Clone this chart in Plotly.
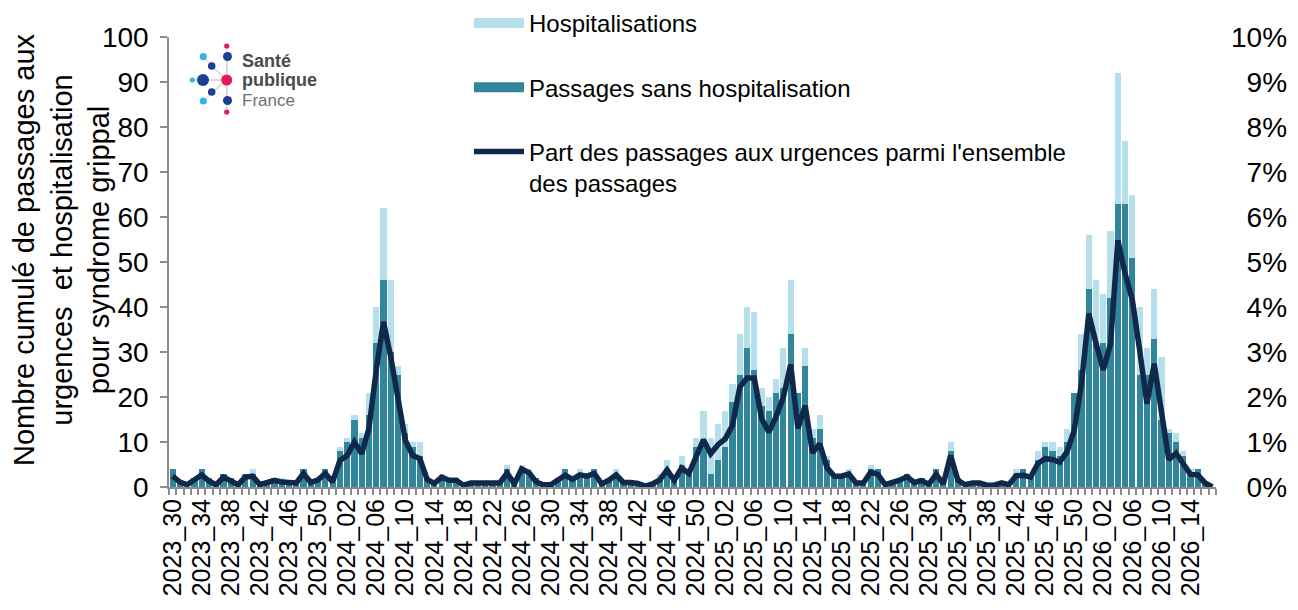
import plotly.graph_objects as go

# ---------------- data ----------------
week_spans = [(2023, 30, 52), (2024, 1, 52), (2025, 1, 52), (2026, 1, 17)]
weeks = [f"{y}_{w:02d}" for y, a, b in week_spans for w in range(a, b + 1)]
tick_labels = [w if i % 4 == 0 else "" for i, w in enumerate(weeks)]

passages_sans_hosp = [
    4, 1, 0, 2, 4, 2, 1, 3, 2, 1,
    3, 3, 1, 1, 2, 1, 1, 1, 4, 1,
    2, 4, 1, 8, 10, 15, 11, 16, 32, 46,
    30, 25, 12, 9, 7, 2, 1, 2, 2, 2,
    0, 1, 1, 1, 1, 1, 4, 1, 4, 3,
    2, 1, 1, 2, 4, 2, 3, 3, 4, 1,
    2, 3, 1, 1, 1, 0, 1, 2, 4, 2,
    5, 4, 9, 10, 3, 6, 9, 19, 25, 31,
    26, 18, 17, 21, 22, 34, 21, 27, 11, 13,
    6, 3, 3, 3, 1, 1, 4, 4, 0, 1,
    2, 3, 1, 2, 1, 4, 1, 8, 2, 0,
    1, 1, 0, 0, 1, 0, 3, 4, 3, 6,
    9, 8, 7, 10, 21, 26, 44, 32, 32, 42,
    63, 63, 51, 25, 25, 33, 15, 12, 10, 7,
    3, 4, 1, 0,
]
hospitalisations = [
    0, 0, 0, 0, 0, 0, 0, 0, 0, 0,
    0, 1, 0, 0, 0, 1, 0, 0, 0, 0,
    0, 0, 1, 1, 1, 1, 1, 5, 8, 16,
    16, 2, 2, 1, 3, 0, 0, 1, 0, 0,
    0, 0, 0, 0, 0, 0, 1, 0, 1, 1,
    0, 0, 0, 0, 0, 0, 1, 0, 0, 0,
    0, 1, 0, 0, 0, 0, 0, 1, 2, 0,
    2, 0, 2, 7, 8, 8, 8, 4, 9, 9,
    13, 4, 3, 3, 9, 12, 0, 4, 2, 3,
    1, 0, 0, 1, 0, 0, 1, 0, 0, 0,
    0, 0, 0, 0, 0, 0, 0, 2, 0, 0,
    0, 0, 0, 0, 0, 0, 1, 0, 0, 2,
    1, 2, 2, 3, 0, 8, 12, 14, 11, 15,
    29, 14, 14, 15, 6, 11, 14, 1, 2, 1,
    1, 0, 0, 0,
]
part_passages_pct = [
    0.24, 0.11, 0.05, 0.15, 0.27, 0.13, 0.05, 0.22, 0.15, 0.05,
    0.22, 0.24, 0.05, 0.10, 0.15, 0.11, 0.10, 0.09, 0.30, 0.10,
    0.16, 0.30, 0.11, 0.59, 0.70, 1.00, 0.74, 1.30, 2.60, 3.67,
    2.89, 1.93, 1.04, 0.70, 0.63, 0.17, 0.08, 0.22, 0.15, 0.15,
    0.04, 0.09, 0.09, 0.09, 0.09, 0.09, 0.31, 0.07, 0.40, 0.32,
    0.11, 0.05, 0.05, 0.15, 0.26, 0.17, 0.27, 0.24, 0.30, 0.07,
    0.15, 0.27, 0.10, 0.10, 0.08, 0.02, 0.07, 0.16, 0.38, 0.15,
    0.42, 0.30, 0.68, 1.05, 0.74, 0.94, 1.07, 1.37, 2.22, 2.42,
    2.42, 1.52, 1.22, 1.56, 2.00, 2.72, 1.30, 1.81, 0.76, 0.96,
    0.43, 0.24, 0.24, 0.29, 0.09, 0.09, 0.33, 0.28, 0.05, 0.09,
    0.15, 0.23, 0.10, 0.14, 0.06, 0.28, 0.07, 0.70, 0.15, 0.05,
    0.09, 0.09, 0.04, 0.04, 0.09, 0.05, 0.25, 0.26, 0.22, 0.52,
    0.63, 0.61, 0.55, 0.78, 1.26, 2.30, 3.85, 3.19, 2.60, 3.19,
    5.48, 4.74, 4.15, 3.04, 1.85, 2.74, 1.63, 0.61, 0.75, 0.52,
    0.28, 0.27, 0.09, 0.00,
]
y_ticks = list(range(0, 101, 10))
y2_ticks = [i / 100 for i in range(0, 11)]
y2_labels = [("\u2007" if i < 10 else "") + f"{i}%" for i in range(0, 11)]
y_title = "Nombre cumulé de passages aux<br>urgences  et hospitalisation<br>pour syndrome grippal"

# ---------------- style ----------------
# page has an 8px body margin: figure is 1290x602, plot area at page x 169..1216, y 37..487
FIG_W, FIG_H = 1290, 602
L, T = 161, 29
PW, PH = 1047, 450
R, B = FIG_W - L - PW, FIG_H - T - PH
PLOT_LEFT, PLOT_BOTTOM = 169, 487
FONT = "Liberation Sans, Arial, sans-serif"
LIGHT = "#b5dfea"
DARK = "#31869b"
NAVY = "#10284a"
GREY = "#8c8c8c"


def px_x(X):
    return (X - PLOT_LEFT) / PW


def px_y(Y):
    return (PLOT_BOTTOM - Y) / PH


fig = go.Figure()
fig.add_trace(go.Bar(x=weeks, y=passages_sans_hosp, name="Passages sans hospitalisation",
                     marker=dict(color=DARK, line=dict(width=0)), showlegend=False))
fig.add_trace(go.Bar(x=weeks, y=hospitalisations, name="Hospitalisations",
                     marker=dict(color=LIGHT, line=dict(width=0)), showlegend=False))
fig.add_trace(go.Scatter(x=weeks, y=[p / 100 for p in part_passages_pct], yaxis="y2",
                         mode="lines", line=dict(color=NAVY, width=5.5),
                         name="Part des passages aux urgences parmi l'ensemble<br>des passages",
                         legendgroup="c", legendrank=3))
# legend proxies (wide colour swatches)
fig.add_trace(go.Scatter(x=[None], y=[None], mode="lines", line=dict(color=LIGHT, width=14),
                         name="Hospitalisations", legendgroup="a", legendrank=1))
fig.add_trace(go.Scatter(x=[None], y=[None], mode="lines", line=dict(color=DARK, width=14),
                         name="Passages sans hospitalisation", legendgroup="b", legendrank=2))

shapes = []
annotations = []
# logo "Santé publique France"
cx, cy = 226.7, 80
dots = [
    (226.7, 46, 2.6, "#e6175c"), (203.3, 56.7, 3.6, "#34b6e4"), (227.5, 56.5, 4.5, "#1c3f94"),
    (211.7, 66, 3.8, "#1c3f94"), (192.3, 80, 2.6, "#34b6e4"), (203, 80, 6, "#1c3f94"),
    (226.7, 80, 5.5, "#e6175c"), (211.7, 92, 3.8, "#1c3f94"), (203.3, 101, 3.6, "#34b6e4"),
    (227.5, 100.5, 4.5, "#1c3f94"), (226.7, 112, 2.6, "#e6175c"),
]
for X, Y, r, c in dots:
    shapes.append(dict(type="line", xref="paper", yref="paper", x0=px_x(cx), y0=px_y(cy),
                       x1=px_x(X), y1=px_y(Y), line=dict(color="#d0d0d0", width=1), layer="above"))
for X, Y, r, c in dots:
    shapes.append(dict(type="circle", xref="paper", yref="paper",
                       x0=px_x(X - r), x1=px_x(X + r), y0=px_y(Y + r), y1=px_y(Y - r),
                       fillcolor=c, line=dict(width=0), layer="above"))
for txt, Y, col, sz in [("<b>Santé</b>", 61, "#4a4a4a", 18), ("<b>publique</b>", 80, "#4a4a4a", 18),
                        ("France", 100, "#707070", 17)]:
    annotations.append(dict(text=txt, x=px_x(240), y=px_y(Y), xref="paper", yref="paper",
                            xanchor="left", yanchor="middle", showarrow=False,
                            font=dict(family=FONT, size=sz, color=col)))
# y-axis title
annotations.append(dict(text=y_title, x=px_x(61), y=px_y(250), xref="paper", yref="paper",
                        xanchor="center", yanchor="middle", showarrow=False, textangle=-90,
                        font=dict(family=FONT, size=29, color="#000000")))

fig.update_layout(
    width=FIG_W, height=FIG_H,
    margin=dict(l=L, r=R, t=T, b=B, autoexpand=False),
    paper_bgcolor="white", plot_bgcolor="white",
    font=dict(family=FONT, size=24, color="#000000"),
    barmode="stack", bargap=0.15,
    shapes=shapes, annotations=annotations,
    legend=dict(x=px_x(469), y=px_y(1), xanchor="left", yanchor="top",
                bgcolor="rgba(0,0,0,0)", font=dict(size=24, color="#000000"),
                tracegroupgap=30, valign="top", itemwidth=50),
    xaxis=dict(type="category", tickmode="array", tickvals=weeks, ticktext=tick_labels,
               tickson="boundaries", ticks="outside", ticklen=6, tickwidth=2, tickcolor=GREY,
               showline=True, linecolor=GREY, linewidth=2, tickangle=-90,
               tickfont=dict(size=25, color="#000000"), range=[-0.5, len(weeks) - 0.5],
               showgrid=False, zeroline=False),
    yaxis=dict(range=[0, 100], tickvals=y_ticks, ticks="outside", ticklen=7, tickwidth=1.5,
               tickcolor=GREY, showline=True, linecolor=GREY, linewidth=1.5, showgrid=False,
               zeroline=False, tickfont=dict(size=28, color="#000000"), ticklabelstandoff=6),
    yaxis2=dict(overlaying="y", side="right", range=[0, 0.1], tickmode="array",
                tickvals=y2_ticks, ticktext=y2_labels, showgrid=False, showline=False,
                zeroline=False, ticks="", tickfont=dict(size=28, color="#000000"),
                ticklabelstandoff=14),
)

fig.write_html("out.html")
